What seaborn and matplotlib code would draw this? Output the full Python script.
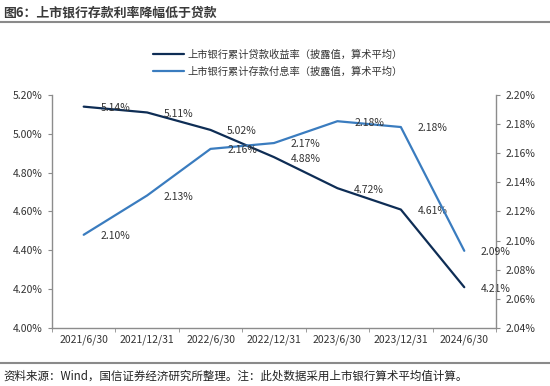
import pandas as pd
import seaborn as sns
import matplotlib.pyplot as plt
import matplotlib.ticker as ticker
from matplotlib.lines import Line2D

# Data
dates = ['2021/6/30', '2021/12/31', '2022/6/30', '2022/12/31',
         '2023/6/30', '2023/12/31', '2024/6/30']
loan_yield = [5.14, 5.11, 5.02, 4.88, 4.72, 4.61, 4.21]
deposit_cost = [2.104, 2.131, 2.163, 2.167, 2.182, 2.178, 2.093]

loan_name = '上市银行累计贷款收益率（披露值，算术平均）'
dep_name = '上市银行累计存款付息率（披露值，算术平均）'
title = '图6：上市银行存款利率降幅低于贷款'
source = '资料来源：Wind，国信证券经济研究所整理。注：此处数据采用上市银行算术平均值计算。'

LOAN_COLOR = '#0E2D55'
DEP_COLOR = '#3A7CBF'
TEXT_COLOR = '#333333'
SPINE_COLOR = '#8C8C8C'

sns.set_style('white')
plt.rcParams['font.family'] = ['Noto Sans CJK SC', 'DejaVu Sans']

df = pd.DataFrame({'date': dates, 'loan': loan_yield, 'deposit': deposit_cost})

fig = plt.figure(figsize=(5.5, 3.86), dpi=100)
ax = fig.add_axes([0.0945, 0.1503, 0.8073, 0.6036])
ax2 = ax.twinx()

sns.lineplot(data=df, x='date', y='loan', ax=ax, color=LOAN_COLOR, linewidth=1.6, sort=False)
sns.lineplot(data=df, x='date', y='deposit', ax=ax2, color=DEP_COLOR, linewidth=1.6, sort=False)

ax.set_xlim(-0.5, len(dates) - 0.5)
ax.set_ylim(4.0, 5.2)
ax2.set_ylim(2.04, 2.20)
ax.yaxis.set_major_locator(ticker.MultipleLocator(0.2))
ax2.yaxis.set_major_locator(ticker.MultipleLocator(0.02))
ax.yaxis.set_major_formatter(ticker.FuncFormatter(lambda v, p: f'{v:.2f}%'))
ax2.yaxis.set_major_formatter(ticker.FuncFormatter(lambda v, p: f'{v:.2f}%'))

# x ticks: labels at categories, tick marks at boundaries
ax.set_xticks(range(len(dates)))
ax.set_xticklabels(dates)
ax.set_xticks([i - 0.5 for i in range(len(dates) + 1)], minor=True)
ax.tick_params(axis='x', which='major', length=0, pad=5, labelsize=7.5, labelcolor=TEXT_COLOR)
ax.tick_params(axis='x', which='minor', length=3, direction='out', color=SPINE_COLOR, bottom=True)
ax.tick_params(axis='y', length=3, direction='out', color=SPINE_COLOR, labelsize=7.5,
               labelcolor=TEXT_COLOR, left=True, pad=4)
ax2.tick_params(axis='y', length=3, direction='out', color=SPINE_COLOR, labelsize=7.5,
                labelcolor=TEXT_COLOR, right=True, pad=4)

for a in (ax, ax2):
    a.set_xlabel('')
    a.set_ylabel('')
    a.grid(False)
    a.spines['top'].set_visible(False)
    for s in ('left', 'right', 'bottom'):
        a.spines[s].set_color(SPINE_COLOR)
        a.spines[s].set_linewidth(1.0)
ax.spines['right'].set_visible(False)
ax2.spines['left'].set_visible(False)
ax2.spines['bottom'].set_visible(False)

# value labels, to the right of each point
for i, v in enumerate(loan_yield):
    ax.annotate(f'{v:.2f}%', (i, v), xytext=(12, -1), textcoords='offset points',
                ha='left', va='center', fontsize=7.5, color=TEXT_COLOR)
for i, v in enumerate(deposit_cost):
    ax2.annotate(f'{v:.2f}%', (i, v), xytext=(12, -1), textcoords='offset points',
                 ha='left', va='center', fontsize=7.5, color=TEXT_COLOR)

handles = [Line2D([], [], color=LOAN_COLOR, linewidth=1.6),
           Line2D([], [], color=DEP_COLOR, linewidth=1.6)]
fig.legend(handles, [loan_name, dep_name], loc='upper left',
           bbox_to_anchor=(0.262, 0.895), frameon=False, fontsize=7.4,
           handlelength=3.0, handletextpad=0.3, labelspacing=0.65,
           labelcolor=TEXT_COLOR)

# title, rules and source note
fig.text(0.006, 0.968, title, fontsize=9.3, color='#3a3a3a', ha='left', va='center', weight='bold')
fig.add_artist(Line2D([0, 1], [1 - 22 / 386, 1 - 22 / 386], transform=fig.transFigure,
                      color='#8a8a8a', linewidth=1.5))
fig.add_artist(Line2D([0, 1], [1 - 363 / 386, 1 - 363 / 386], transform=fig.transFigure,
                      color='#8a8a8a', linewidth=1.5))
fig.text(0.006, 1 - 376 / 386, source, fontsize=8.3, color='#222222', ha='left', va='center')

fig.savefig('out.png', dpi=100)
